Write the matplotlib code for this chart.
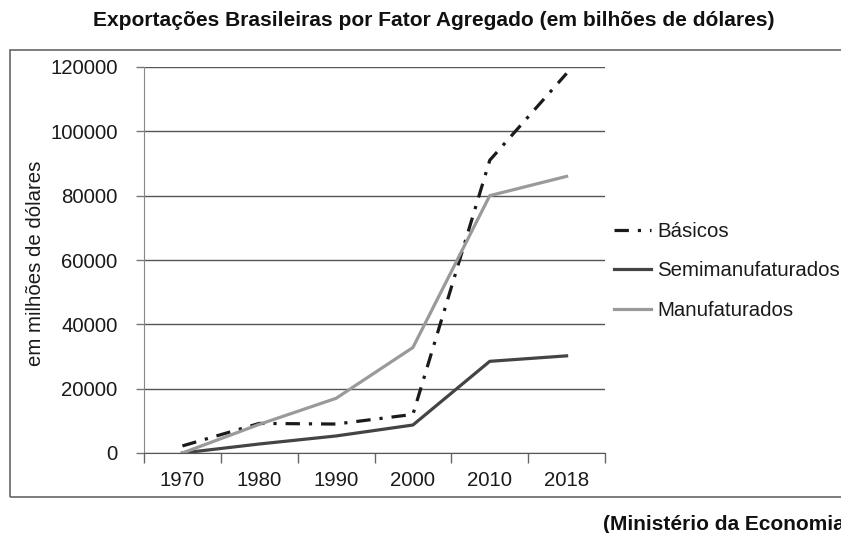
import matplotlib
matplotlib.use("Agg")
import matplotlib.pyplot as plt
from matplotlib.patches import Rectangle

plt.rcParams['font.family'] = ['Liberation Sans', 'DejaVu Sans']

years = ["1970", "1980", "1990", "2000", "2010", "2018"]
basicos = [2200, 9200, 9000, 12000, 91000, 118000]
semimanufaturados = [0, 2800, 5300, 8700, 28500, 30200]
manufaturados = [0, 8900, 17000, 32800, 80000, 86000]
yticks = [0, 20000, 40000, 60000, 80000, 100000, 120000]

FS = 14.7
W, H = 841, 533
fig = plt.figure(figsize=(W / 100, H / 100), dpi=100)
ax = fig.add_axes([144 / W, (H - 453) / H, (605 - 144) / W, (453 - 67) / H])

x = list(range(len(years)))
l1, = ax.plot(x, basicos, color='#1a1a1a', lw=2.3, dashes=(4.5, 2.8, 1, 2.8), label='Básicos', zorder=3)
l2, = ax.plot(x, semimanufaturados, color='#444444', lw=2.3, label='Semimanufaturados', zorder=3)
l3, = ax.plot(x, manufaturados, color='#9a9a9a', lw=2.3, label='Manufaturados', zorder=3)

ax.set_xlim(-0.5, len(years) - 0.5)
ax.set_ylim(0, 120000)
ax.set_yticks(yticks)
ax.set_yticklabels([str(v) for v in yticks])
ax.yaxis.grid(True, color='#555555', lw=1.0)
ax.set_axisbelow(True)

ax.set_xticks([i - 0.5 for i in range(len(years) + 1)])
ax.set_xticklabels([])
ax.set_xticks(x, minor=True)
ax.set_xticklabels(years, minor=True)
ax.tick_params(axis='x', which='major', length=7, width=1, color='#666666', direction='out')
ax.tick_params(axis='x', which='minor', length=0, pad=13, labelsize=FS, labelcolor='#1a1a1a')
ax.tick_params(axis='y', length=6, width=1, color='#777777', direction='out', pad=13,
               labelsize=FS, labelcolor='#1a1a1a')

for s in ['top', 'right']:
    ax.spines[s].set_visible(False)
ax.spines['left'].set_color('#888888')
ax.spines['bottom'].set_color('#555555')

fig.text(36 / W, (H - 263) / H, 'em milhões de dólares', rotation=90, ha='center', va='center',
         fontsize=FS, color='#1a1a1a')

fig.text(434 / W, (H - 21) / H, 'Exportações Brasileiras por Fator Agregado (em bilhões de dólares)',
         ha='center', va='center', fontsize=15.1, fontweight='bold', color='#111111')

fig.text(603 / W, (H - 524) / H, '(Ministério da Economia)', ha='left', va='center',
         fontsize=15, fontweight='bold', color='#111111')

frame = Rectangle((10 / W, (H - 497) / H), 1.0, (497 - 50) / H, transform=fig.transFigure,
                  fill=False, edgecolor='#666666', lw=1.2)
fig.patches.append(frame)

leg = fig.legend(handles=[l1, l2, l3], loc='center left', bbox_to_anchor=(606 / W, (H - 271) / H),
                 frameon=False, fontsize=FS, handlelength=1.8, handletextpad=0.3,
                 labelspacing=1.0, borderaxespad=0, labelcolor='#1a1a1a')

fig.savefig('out.png', dpi=100)
